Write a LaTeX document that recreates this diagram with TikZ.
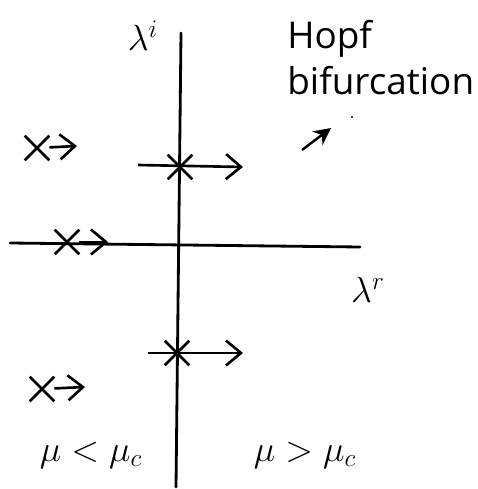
\documentclass[tikz,border=0pt]{standalone}
\usepackage{fontspec}
\setmainfont{Open Sans}
\usepackage{tikz}
\usetikzlibrary{arrows.meta,shapes.misc}
\tikzset{
  axis/.style={line width=1.6pt,line cap=round},
  shiftarr/.style={-{Straight Barb[length=3mm,width=5mm,line width=1.5pt]},line width=1.5pt},
  eig/.style={cross out,draw,line width=1.5pt,minimum size=4.4mm,inner sep=0pt},
  lbl/.style={font=\fontsize{21}{26}\selectfont,align=left,inner sep=0pt},
  mlbl/.style={font=\fontsize{22}{26}\selectfont,inner sep=0pt},
}
\begin{document}
\begin{tikzpicture}[x=0.02cm,y=-0.02cm]
\useasboundingbox (0,0) rectangle (477,489);
% --- axes ---
\coordinate (vtop) at (181,33);
\coordinate (vbot) at (176,487);
\coordinate (hleft) at (10,243);
\coordinate (hright) at (360,247);
\draw[axis] (vtop) -- (vbot);
\draw[axis] (hleft) -- (hright);
\node[mlbl] (li) at (143,36) {$\lambda^{i}$};
\node[mlbl] (lr) at (368,290) {$\lambda^{r}$};
% --- eigenvalues on the imaginary axis (mu > mu_c) ---
\node[eig] (up) at (180,167) {};
\draw[line width=1.3pt] (up.north) -- (up.south);
\coordinate (upL) at (138,165);
\coordinate (upR) at (243,167);
\draw[shiftarr] (upL) -- (upR);
\node[eig] (lo) at (177,353) {};
\draw[line width=1.3pt] (lo.north) -- (lo.south);
\coordinate (loL) at (148,353);
\coordinate (loR) at (243,353);
\draw[shiftarr] (loL) -- (loR);
% --- eigenvalues in the left half plane (mu < mu_c) ---
\node[eig] (ea) at (37,148) {};
\coordinate (eaR) at (77,146);
\draw[shiftarr] (ea) -- (eaR);
\node[eig] (eb) at (67,242) {};
\coordinate (ebR) at (108,242);
\draw[shiftarr] (eb) -- (ebR);
\node[eig] (ec) at (42,389) {};
\coordinate (ecR) at (85,387);
\draw[shiftarr] (ec) -- (ecR);
% --- labels ---
\node[lbl,anchor=north west] (hopf) at (287,20) {Hopf\\bifurcation};
\coordinate (hA) at (302,150);
\coordinate (hB) at (331,128);
\draw[-{Stealth[length=3.4mm,width=3.4mm]},line width=1.4pt] (hA) -- (hB);
\fill (352,117) circle (1.2);
\node[mlbl] (lt) at (91,455) {$\mu<\mu_c$};
\node[mlbl] (gt) at (305,455) {$\mu>\mu_c$};
\end{tikzpicture}
\end{document}
